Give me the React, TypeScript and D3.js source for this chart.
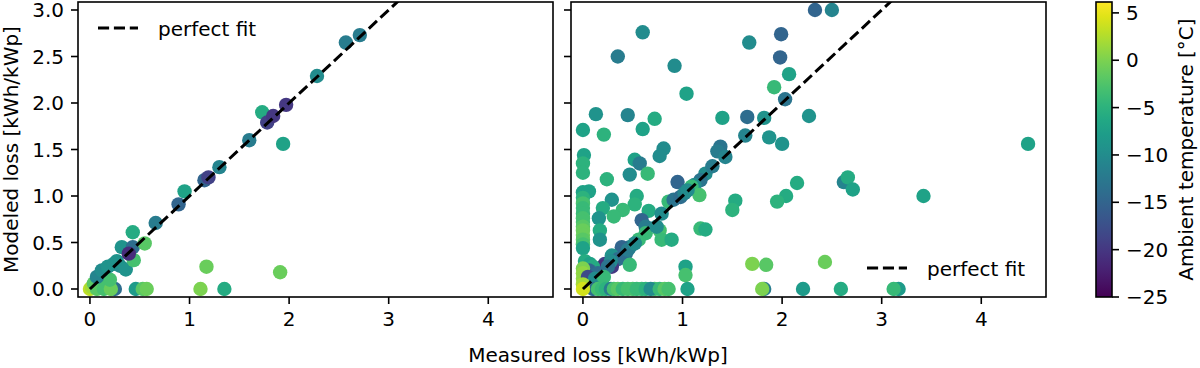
import { useMemo } from 'react';
import * as d3 from 'd3';

// measured loss, modeled loss, ambient temperature
const leftPoints: [number, number, number][] = [
  [0.0, 0.0, 3], [0.02, 0.02, 2], [0.1, 0.05, 1], [0.04, 0.06, -2], [0.15, 0.02, -3],
  [0.07, 0.0, -2], [0.14, 0.0, -3], [0.25, 0.0, -14], [0.21, 0.0, -1], [0.2, 0.1, -3],
  [0.07, 0.13, -11], [0.12, 0.2, -10], [0.18, 0.24, -9], [0.24, 0.27, -9], [0.3, 0.25, -10],
  [0.27, 0.3, -9], [0.46, 0.0, -8], [0.53, 0.0, -2], [0.57, 0.0, -1], [1.11, 0.0, 0],
  [1.35, 0.0, -6], [1.17, 0.24, -1], [1.91, 0.18, -1], [0.36, 0.21, -9], [0.44, 0.31, -3],
  [0.32, 0.45, -9], [0.43, 0.45, -14], [0.39, 0.38, -21], [0.55, 0.49, -2], [0.43, 0.61, -6],
  [0.66, 0.71, -12], [0.89, 0.91, -15], [0.95, 1.05, -7], [1.15, 1.17, -15], [1.19, 1.2, -19],
  [1.3, 1.31, -11], [1.6, 1.6, -12], [1.94, 1.56, -7], [1.73, 1.9, -6], [1.78, 1.79, -19],
  [1.84, 1.86, -20], [1.97, 1.98, -20], [2.28, 2.29, -10], [2.57, 2.65, -12], [2.71, 2.73, -12],
];

const rightPoints: [number, number, number][] = [
  [2.33, 3.0, -15], [2.5, 3.0, -11], [0.6, 2.76, -10], [1.99, 2.74, -15], [1.67, 2.65, -10],
  [0.35, 2.5, -12], [1.98, 2.49, -15], [0.92, 2.4, -10], [2.07, 2.31, -7], [1.92, 2.17, -4],
  [1.04, 2.1, -7], [2.03, 2.04, -13],
  [0.13, 1.88, -9], [0.45, 1.87, -11], [0.72, 1.83, -6], [1.4, 1.84, -7], [1.65, 1.85, -14],
  [1.82, 1.84, -9], [2.27, 1.86, -9],
  [0.0, 1.71, -7], [0.21, 1.66, -5], [0.6, 1.72, -7], [1.63, 1.65, -11], [1.87, 1.63, -9],
  [2.0, 1.56, -9], [4.47, 1.56, -7],
  [0.81, 1.51, -10], [0.77, 1.43, -10], [1.38, 1.53, -13], [1.35, 1.48, -12], [1.43, 1.42, -11],
  [0.01, 1.44, -7], [0.0, 1.35, -5], [0.0, 1.25, -5], [0.52, 1.39, -7], [0.57, 1.35, -12],
  [0.65, 1.24, -4], [0.47, 1.23, -10], [0.24, 1.18, -5],
  [1.23, 1.24, -10], [1.3, 1.32, -12], [1.18, 1.17, -13], [1.12, 1.12, -10], [0.95, 1.15, -15],
  [1.09, 1.1, -4], [1.17, 1.01, -3],
  [2.62, 1.15, -11], [2.66, 1.2, -6], [2.71, 1.07, -7], [2.15, 1.14, -6], [2.04, 1.0, -6],
  [1.95, 0.94, -5], [3.42, 1.0, -7], [1.53, 0.95, -6], [1.5, 0.85, -5],
  [0.0, 1.04, -7], [0.06, 1.05, -7], [0.29, 0.96, -9], [0.54, 1.0, -6], [0.52, 0.91, -5],
  [0.4, 0.85, -4], [0.2, 0.87, -6], [0.31, 0.78, -4], [0.16, 0.76, -9],
  [0.66, 0.84, -6], [0.59, 0.74, -15], [0.63, 0.67, -12], [0.79, 0.81, -10], [0.86, 0.94, -4],
  [0.91, 0.96, -13], [0.98, 0.99, -14], [1.02, 1.03, -11], [1.05, 1.06, -10],
  [0.0, 0.98, -5], [0.0, 0.92, -3], [0.0, 0.87, -4], [0.0, 0.81, -4], [0.0, 0.76, -3],
  [0.0, 0.72, -3], [0.0, 0.67, -2], [0.0, 0.63, -1], [0.0, 0.58, -1], [0.0, 0.53, -2],
  [0.0, 0.48, -3], [0.0, 0.44, -7], [0.02, 0.3, -6],
  [0.17, 0.63, -6], [0.17, 0.53, -9], [0.77, 0.63, -3], [0.79, 0.53, -4], [0.89, 0.53, -6],
  [1.18, 0.65, -4], [1.23, 0.64, -6], [0.63, 0.6, -4], [0.56, 0.53, -4],
  [0.47, 0.45, -12], [0.39, 0.45, -15], [0.43, 0.38, -14], [0.29, 0.36, -9], [0.35, 0.32, -14],
  [0.47, 0.26, -4], [0.45, 0.42, -12], [0.52, 0.49, -10], [0.74, 0.67, -10],
  [0.22, 0.27, -19], [0.2, 0.24, -21], [0.29, 0.24, -20], [0.07, 0.27, -7], [0.1, 0.24, -6],
  [0.06, 0.2, -15], [0.28, 0.3, -10], [0.25, 0.24, -13], [0.15, 0.17, -14],
  [0.0, 0.22, 0], [0.0, 0.17, 1], [0.0, 0.11, 1], [0.05, 0.13, -18], [0.12, 0.11, -10], [0.21, 0.13, -4],
  [1.03, 0.24, -7], [1.03, 0.15, -3], [1.7, 0.27, 0], [1.84, 0.26, -2], [2.43, 0.29, -1],
  [0.1, 0, -14], [0.15, 0, -3], [0.19, 0, -4], [0.23, 0, -5], [0.28, 0, -12], [0.31, 0, -3],
  [0.35, 0, -2], [0.4, 0, -4], [0.45, 0, -3], [0.5, 0, -3], [0.54, 0, -4], [0.59, 0, -4],
  [0.63, 0, -5], [0.72, 0, -3], [0.68, 0, -10], [0.77, 0, -4], [0.82, 0, -2], [0.86, 0, -3],
  [1.05, 0, -7], [1.82, 0, -12], [1.8, 0, 0], [2.21, 0, -8], [2.59, 0, -6], [3.17, 0, -8],
  [3.12, 0, -4], [0.0, 0.05, 2], [0.0, 0.0, 4],
];

const xTicks = [0, 1, 2, 3, 4];
const yTicks = [0, 0.5, 1, 1.5, 2, 2.5, 3];
const cbTicks = [5, 0, -5, -10, -15, -20, -25];
const tempRange = [-25, 6.15];

const FONT = 'DejaVu Sans, sans-serif';
const top = 2;
const bottom = 297;
const panelW = 475;
const panelLefts = [78, 571];

const fmtMinus = (v: number) => (v < 0 ? `\u2212${Math.abs(v)}` : `${v}`);

const Panel = ({
  points,
  left,
  showY,
  legend,
  idx,
}: {
  points: [number, number, number][];
  left: number;
  showY: boolean;
  legend: { x: number; y: number };
  idx: number;
}) => {
  const x = d3.scaleLinear().domain([-0.12, 4.65]).range([left, left + panelW]);
  const y = d3.scaleLinear().domain([-0.086, 3.086]).range([bottom, top]);
  const color = d3.scaleSequential(d3.interpolateViridis).domain(tempRange);
  const line = d3
    .line<number>()
    .x((d) => x(d))
    .y((d) => y(d));

  return (
    <g>
      <defs>
        <clipPath id={`clip${idx}`}>
          <rect x={left} y={top} width={panelW} height={bottom - top} />
        </clipPath>
      </defs>
      <g clipPath={`url(#clip${idx})`}>
        {points.map((p, i) => (
          <circle key={i} cx={x(p[0])} cy={y(p[1])} r={7.2} fill={color(p[2])} />
        ))}
        <path
          d={line([0, 3.3]) ?? ''}
          stroke="#000"
          strokeWidth={3}
          strokeDasharray="11.1 4.8"
          fill="none"
        />
      </g>
      <rect
        x={left}
        y={top}
        width={panelW}
        height={bottom - top}
        fill="none"
        stroke="#000"
        strokeWidth={1.6}
      />
      {xTicks.map((t) => (
        <g key={t}>
          <line x1={x(t)} x2={x(t)} y1={bottom} y2={bottom + 7} stroke="#000" strokeWidth={1.6} />
          <text x={x(t)} y={bottom + 29} textAnchor="middle" fontSize={20} fontFamily={FONT}>
            {t}
          </text>
        </g>
      ))}
      {yTicks.map((t) => (
        <g key={t}>
          <line x1={left - 7} x2={left} y1={y(t)} y2={y(t)} stroke="#000" strokeWidth={1.6} />
          {showY && (
            <text
              x={left - 14}
              y={y(t)}
              dy="0.36em"
              textAnchor="end"
              fontSize={20}
              fontFamily={FONT}
            >
              {t.toFixed(1)}
            </text>
          )}
        </g>
      ))}
      {/* legend, no frame */}
      <line
        x1={legend.x}
        x2={legend.x + 40}
        y1={legend.y}
        y2={legend.y}
        stroke="#000"
        strokeWidth={3}
        strokeDasharray="11.1 4.8"
      />
      <text x={legend.x + 60} y={legend.y + 8} fontSize={20} fontFamily={FONT}>
        perfect fit
      </text>
    </g>
  );
};

const Colorbar = () => {
  const cbX = 1096;
  const cbW = 16;
  const cy = d3.scaleLinear().domain(tempRange).range([bottom, top]);
  const stops = useMemo(() => d3.range(0, 1.0001, 0.05), []);
  return (
    <g>
      <defs>
        <linearGradient id="viridisGrad" x1="0" y1="1" x2="0" y2="0">
          {stops.map((s) => (
            <stop key={s} offset={s} stopColor={d3.interpolateViridis(s)} />
          ))}
        </linearGradient>
      </defs>
      <rect x={cbX} y={top} width={cbW} height={bottom - top} fill="url(#viridisGrad)" />
      <rect
        x={cbX}
        y={top}
        width={cbW}
        height={bottom - top}
        fill="none"
        stroke="#000"
        strokeWidth={1.6}
      />
      {cbTicks.map((t) => (
        <g key={t}>
          <line
            x1={cbX + cbW}
            x2={cbX + cbW + 7}
            y1={cy(t)}
            y2={cy(t)}
            stroke="#000"
            strokeWidth={1.6}
          />
          <text x={cbX + cbW + 14} y={cy(t)} dy="0.36em" fontSize={20} fontFamily={FONT}>
            {fmtMinus(t)}
          </text>
        </g>
      ))}
      <text
        transform={`translate(1193,${(top + bottom) / 2}) rotate(-90)`}
        textAnchor="middle"
        fontSize={20}
        fontFamily={FONT}
      >
        Ambient temperature [°C]
      </text>
    </g>
  );
};

export default function App() {
  return (
    <svg
      width={1200}
      height={368}
      viewBox="0 0 1200 368"
      style={{ position: 'absolute', left: 0, top: 0, background: '#fff' }}
    >
      <rect width={1200} height={368} fill="#fff" />
      <Panel points={leftPoints} left={panelLefts[0]} showY legend={{ x: 98, y: 28 }} idx={0} />
      <Panel points={rightPoints} left={panelLefts[1]} showY={false} legend={{ x: 867, y: 268 }} idx={1} />
      <Colorbar />
      <text
        transform={`translate(18,${(top + bottom) / 2}) rotate(-90)`}
        textAnchor="middle"
        fontSize={20}
        fontFamily={FONT}
      >
        Modeled loss [kWh/kWp]
      </text>
      <text x={598} y={362} textAnchor="middle" fontSize={20} fontFamily={FONT}>
        Measured loss [kWh/kWp]
      </text>
    </svg>
  );
}
